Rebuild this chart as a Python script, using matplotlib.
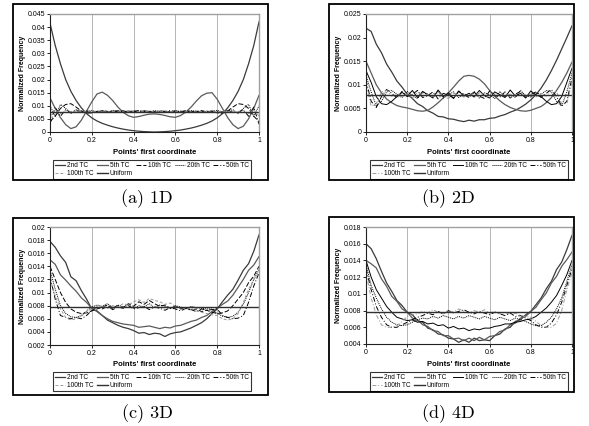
import numpy as np
import matplotlib.pyplot as plt
from matplotlib.patches import Rectangle

plt.rcParams['font.family'] = ['Liberation Sans', 'DejaVu Sans']

series_names = ['2nd TC', '5th TC', '10th TC', '20th TC', '50th TC', '100th TC', 'Uniform']
uniform_level = 7.8   # all values below are in units of 1e-3

# ---- (a) 1D
a_2nd = [41.5,33,26,20,15.5,12,9.2,7.0,5.4,4.2,3.3,2.6,2.0,1.5,1.1,0.75,0.5,0.3,0.15,0.05,0.0,
         0.05,0.15,0.3,0.5,0.75,1.1,1.5,2.0,2.6,3.3,4.2,5.4,7.0,9.2,12,15.5,20,26,33,42]
a_5th = [13,9,5.5,2.8,1.3,2.0,4.5,8,11.5,14.5,15.2,14,12,9.5,7.5,6.2,5.6,5.9,6.4,6.8,6.9,
         6.7,6.3,5.8,5.6,6.3,7.6,9.5,11.8,13.8,14.8,15.0,12.5,9,5.5,2.8,1.3,2.2,5,9,14]
a_10th = [4,6,9,10.5,10.8,9.5,8,7.2,7.3,7.9,8.1,7.6,8.0,7.7,8.1,7.6,7.9,8.2,7.7,7.9,7.6,
          8.1,7.8,7.6,8.0,7.7,8.2,7.6,7.9,8.0,7.7,7.9,7.3,7.2,8,9.5,10.8,10.5,9,6,4]
a_20th = [10,6,10.5,9,7,8.5,8,7.6,8.2,7.7,8.0,7.5,8.3,7.8,7.6,8.1,7.7,8.0,7.9,7.5,8.2,
          7.7,8.0,7.6,8.1,7.8,7.5,8.2,7.9,7.6,8.0,7.7,8.3,7.6,8,8.5,7,9,10.5,6,10]
a_50th = [3,9.5,6,8.5,7.5,8.2,7.6,8.0,7.8,7.5,8.1,7.9,7.6,8.2,7.7,7.9,8.0,7.6,8.1,7.8,7.7,
          8.0,7.6,8.2,7.8,7.5,8.0,7.9,7.6,8.1,7.7,8.0,7.8,7.6,8.2,7.5,7.5,8.5,6,9.5,3]
a_100th = [6,8.5,7,8.2,7.8,7.9,7.7,8.0,7.6,7.9,8.1,7.7,7.8,8.0,7.6,7.9,8.1,7.8,7.7,8.0,7.9,
           7.6,8.0,7.8,7.7,8.1,7.9,7.6,8.0,7.8,7.7,8.1,7.6,7.9,7.8,8.0,7.8,8.2,7,8.5,6]

# ---- (b) 2D
b_2nd = [22,21.3,18.6,16.8,14.4,12.7,10.8,9.5,8.0,7.1,6.0,5.4,4.5,4.0,3.3,3.2,2.8,2.7,2.4,2.2,2.5,
         2.3,2.6,2.6,2.9,3.0,3.4,3.7,4.2,4.6,5.2,5.9,6.8,7.9,9.3,11.0,13.0,15.2,17.6,20.0,22.5]
b_5th = [15,12.5,10,8.3,7,6.2,5.6,5.3,5.1,4.8,4.5,4.4,4.6,5.3,6.2,7.2,8.3,9.5,10.8,11.8,12.0,
         11.8,11.2,10.2,8.8,7.6,6.6,5.8,5.2,4.8,4.5,4.4,4.6,5.0,5.4,6.2,7.3,8.8,10.5,12.5,14.8]
b_10th = [13,10.5,7.5,6,5.8,6.5,7.5,8.4,7.6,8.8,7.3,8.6,7.9,7.2,8.9,7.5,8.3,7.1,8.7,7.6,8.2,
          7.4,8.8,7.7,7.2,8.5,7.9,7.3,8.9,7.6,8.2,7.2,8.7,7.8,7.5,6.5,5.8,6,7.5,10.5,13.5]
b_20th = [12,8.5,5.5,6.5,8.5,8.8,8.0,7.3,8.6,7.7,7.1,8.4,8.0,7.4,8.7,7.2,7.9,8.5,7.3,8.1,7.6,
          8.6,7.2,8.3,7.9,7.1,8.6,7.5,8.0,7.3,8.8,7.7,7.4,8.3,8.0,8.8,8.5,6.5,5.5,8.5,12.5]
b_50th = [11,6.5,5.2,7.5,9,8.2,7.2,8.6,7.5,8.0,8.8,7.3,7.7,8.5,7.0,8.2,7.8,7.2,8.6,7.9,7.3,
          8.4,7.6,7.1,8.7,7.8,7.4,8.5,7.2,8.0,8.6,7.4,7.9,8.5,7.3,8.2,9,7.5,5.5,6.5,11.5]
b_100th = [10,5.5,6,8.5,8.8,7.6,8.3,7.4,8.1,7.2,8.5,7.7,8.0,7.3,8.4,7.6,7.1,8.2,7.8,7.4,8.0,
           7.5,8.3,7.9,7.3,8.1,7.6,8.4,7.2,7.9,8.3,7.5,8.0,7.4,8.2,7.6,8.8,8.5,6,6,10.5]

# ---- (c) 3D
c_2nd = [17.8,16.9,15.6,14.6,12.4,11.8,10.3,9.0,7.5,7.2,6.5,5.8,5.4,5.0,4.7,4.5,4.2,3.8,3.9,3.6,3.8,
         3.7,3.3,3.7,3.9,4.0,4.3,4.6,5.0,5.4,6.0,6.8,7.5,8.6,9.6,10.5,11.9,13.4,14.4,16.3,18.8]
c_5th = [15,14.3,12.7,11.9,11.0,10.2,9.2,8.5,7.6,7.1,6.5,6.0,5.6,5.4,5.2,5.1,5.0,4.7,4.8,4.9,4.7,
         4.5,4.7,4.6,4.9,5.0,5.3,5.6,5.8,6.2,6.5,7.1,7.6,8.2,8.7,9.6,10.8,12.0,13.4,14.2,15.5]
c_10th = [14,12,10,8.5,7.5,7,6.8,6.9,7.2,7.5,7.8,8.1,7.6,8.0,7.7,8.3,7.9,8.6,8.2,8.8,8.3,
          7.9,8.1,7.6,7.9,7.5,7.7,7.3,7.5,7.1,7.3,7.0,6.8,6.9,7.2,8.0,9.0,10.0,11.5,12.5,14]
c_20th = [13.5,10.5,8,6.8,6.3,6.2,6.5,7.2,7.8,8.1,7.9,8.3,7.7,8.1,7.8,8.2,7.6,8.0,7.8,8.3,7.7,
          8.1,7.9,7.6,8.0,7.8,7.5,7.9,7.7,7.6,7.5,7.5,6.8,6.4,6.2,6.4,7,8.2,10,12,13.5]
c_50th = [12.5,9,6.5,6.2,6,6.2,6.0,6.5,7.3,7.8,7.5,7.9,7.4,7.8,7.6,8.0,7.5,7.7,7.9,7.4,7.8,
          7.6,7.3,7.7,7.5,7.2,7.6,7.4,7.1,7.5,7.3,7.4,7.5,6.5,6.2,6.0,6.1,6.5,8.5,11,13]
c_100th = [12,9.5,7.5,6.2,5.8,6,6.4,7,7.6,7.7,7.9,7.6,8.0,7.8,8.3,8.1,8.6,8.9,8.5,9.1,8.8,
           8.6,8.2,8.4,7.9,7.7,7.5,7.6,7.2,7.0,6.8,6.6,6.5,6,5.8,6,6.8,8.5,10.5,12,13]

# ---- (d) 4D
d_2nd = [16,15.4,14.2,12.7,11.3,10.3,9.2,8.6,7.8,7.5,6.8,6.6,5.9,5.7,5.2,5.1,4.7,4.6,4.2,4.5,4.2,
         4.7,4.4,4.5,4.4,5.0,5.2,5.8,6.0,6.7,6.9,7.5,7.9,8.7,9.5,10.6,11.5,12.9,13.8,15.3,17]
d_5th = [14,13.6,13.1,11.8,10.9,9.7,9.1,8.2,7.8,7.1,6.9,6.3,6.1,5.6,5.5,5.0,5.0,4.6,4.7,4.4,4.7,
         4.4,4.8,4.5,4.9,5.0,5.5,5.7,6.3,6.5,7.1,7.3,7.9,8.4,9.3,10.1,11.3,12.1,13.3,14.1,15]
d_10th = [14,12,10.5,9.5,8.5,7.8,7.2,7.0,6.8,6.9,6.6,6.7,6.4,6.5,6.2,6.3,5.9,6.1,5.8,5.9,5.6,
          5.8,5.7,5.9,5.9,6.1,6.2,6.4,6.4,6.6,6.7,6.9,7.0,7.3,7.8,8.3,9,9.8,11,12.3,14]
d_20th = [13.5,11,9.5,8.2,7.2,6.6,6.3,6.2,6.3,6.6,6.9,7.1,7.0,7.3,7.1,7.4,7.2,7.0,7.3,7.1,7.4,
          7.2,7.0,7.3,7.1,6.9,7.2,7.0,6.8,7.1,6.9,6.7,6.4,6.2,6.2,6.6,7.2,8.2,9.5,11.5,13.5]
d_50th = [13,10.5,8.5,7.2,6.3,6.0,6.0,6.3,6.6,6.9,7.2,7.4,7.7,7.5,7.9,7.6,8.0,7.7,7.9,8.1,7.8,
          7.6,7.9,7.7,7.5,7.8,7.6,7.4,7.7,7.3,7.4,7.1,6.8,6.3,6.0,6.0,6.5,7.5,9,11,13]
d_100th = [12.5,9.5,7.5,6.3,6.0,6.0,6.2,6.7,7.3,7.5,7.6,7.9,7.7,8.1,7.8,7.6,8.0,7.8,8.2,7.9,7.7,
           8.0,7.8,8.1,7.7,7.9,7.6,7.8,7.5,7.7,7.4,7.3,7.2,6.7,6.2,6.0,6,6.5,8,10.5,12.5]

a_yticks = [0, 0.005, 0.01, 0.015, 0.02, 0.025, 0.03, 0.035, 0.04, 0.045]
b_yticks = [0, 0.005, 0.01, 0.015, 0.02, 0.025]
c_yticks = [0.002, 0.004, 0.006, 0.008, 0.01, 0.012, 0.014, 0.016, 0.018, 0.02]
d_yticks = [0.004, 0.006, 0.008, 0.01, 0.012, 0.014, 0.016, 0.018]
xticks = [0, 0.2, 0.4, 0.6, 0.8, 1]
captions = ['(a) 1D', '(b) 2D', '(c) 3D', '(d) 4D']

panels = [
    (captions[0], [a_2nd, a_5th, a_10th, a_20th, a_50th, a_100th], a_yticks),
    (captions[1], [b_2nd, b_5th, b_10th, b_20th, b_50th, b_100th], b_yticks),
    (captions[2], [c_2nd, c_5th, c_10th, c_20th, c_50th, c_100th], c_yticks),
    (captions[3], [d_2nd, d_5th, d_10th, d_20th, d_50th, d_100th], d_yticks),
]

# pixel layout: outer box, plot area, legend box, caption centre
W, H = 589, 426
layout = [
    dict(box=(13, 4, 268, 180), ax=(50, 14, 259, 132), leg=(53, 160, 257), cap=(147, 199)),
    dict(box=(329, 4, 574, 180), ax=(366, 14, 572, 132), leg=(370, 160, 570), cap=(448, 199)),
    dict(box=(13, 218, 268, 395), ax=(50, 227, 259, 345), leg=(53, 372, 256), cap=(147, 414)),
    dict(box=(329, 217, 574, 392), ax=(366, 227, 572, 344), leg=(370, 372, 570), cap=(448, 414)),
]

dashed_10th = [True, False, True, False]

fig = plt.figure(figsize=(W / 100, H / 100), dpi=100)

for k, (cap, curves, yt) in enumerate(panels):
    L = layout[k]
    x0, y0, x1, y1 = L['box']
    fig.add_artist(Rectangle((x0 / W, 1 - y1 / H), (x1 - x0) / W, (y1 - y0) / H,
                             transform=fig.transFigure, fill=False, ec='black', lw=1.3))
    ax0, ay0, ax1, ay1 = L['ax']
    ax = fig.add_axes([ax0 / W, 1 - ay1 / H, (ax1 - ax0) / W, (ay1 - ay0) / H])

    styles = [
        dict(color='#3a3a3a', ls='-', lw=0.9),
        dict(color='#5a5a5a', ls='-', lw=0.9),
        dict(color='black', ls=(0, (5, 2)) if dashed_10th[k] else '-', lw=0.7),
        dict(color='black', ls=(0, (1, 1)), lw=0.7),
        dict(color='black', ls=(0, (5, 2, 1, 2)), lw=0.7),
        dict(color='#999999', ls=(0, (3, 2)) if dashed_10th[k] else (0, (4, 2, 1, 2)), lw=0.7),
    ]
    handles = []
    for vals, name, st in zip(curves, series_names, styles):
        xs = np.linspace(0, 1, len(vals))
        h, = ax.plot(xs, np.array(vals) / 1000, label=name, **st)
        handles.append(h)
    h, = ax.plot([0, 1], [uniform_level / 1000] * 2, color='#303030', lw=1.0, label='Uniform')
    handles.append(h)

    ax.set_xlim(0, 1)
    ax.set_ylim(yt[0], yt[-1])
    ax.set_xticks(xticks)
    ax.set_xticklabels([f'{v:g}' for v in xticks])
    ax.set_yticks(yt)
    ax.set_yticklabels([f'{v:g}' for v in yt])
    ax.tick_params(labelsize=5, length=2, width=0.6, pad=1.5, direction='out')
    ax.xaxis.grid(True, color='#b5b5b5', lw=0.7)
    for s in ['left', 'bottom']:
        ax.spines[s].set_color('#202020')
        ax.spines[s].set_linewidth(0.8)
    for s in ['top', 'right']:
        ax.spines[s].set_color('#a0a0a0')
        ax.spines[s].set_linewidth(1.0)

    fig.text((ax0 - 27) / W, 1 - (ay0 + ay1) / 2 / H, 'Normalized Frequency', rotation=90,
             ha='center', va='center', fontsize=5, fontweight='bold')
    fig.text((ax0 + ax1) / 2 / W, 1 - (ay1 + 20) / H, "Points' first coordinate",
             ha='center', va='center', fontsize=5.5, fontweight='bold')

    lx0, ly0, lx1 = L['leg']
    order = [0, 5, 1, 6, 2, 3, 4]
    leg = ax.legend([handles[i] for i in order], [handles[i].get_label() for i in order],
                    ncol=5, loc='upper left',
                    bbox_to_anchor=(lx0 / W, 1 - ly0 / H),
                    bbox_transform=fig.transFigure, fontsize=4.7, frameon=True, fancybox=False,
                    borderpad=0.3, handlelength=1.6, handletextpad=0.3, labelspacing=0.2,
                    columnspacing=0.5, borderaxespad=0)
    leg.get_frame().set_edgecolor('black')
    leg.get_frame().set_linewidth(0.8)

    cx, cy = L['cap']
    fig.text(cx / W, 1 - cy / H, cap, ha='center', va='center', fontsize=13, family='cmr10')

fig.savefig('out.png', dpi=100)
